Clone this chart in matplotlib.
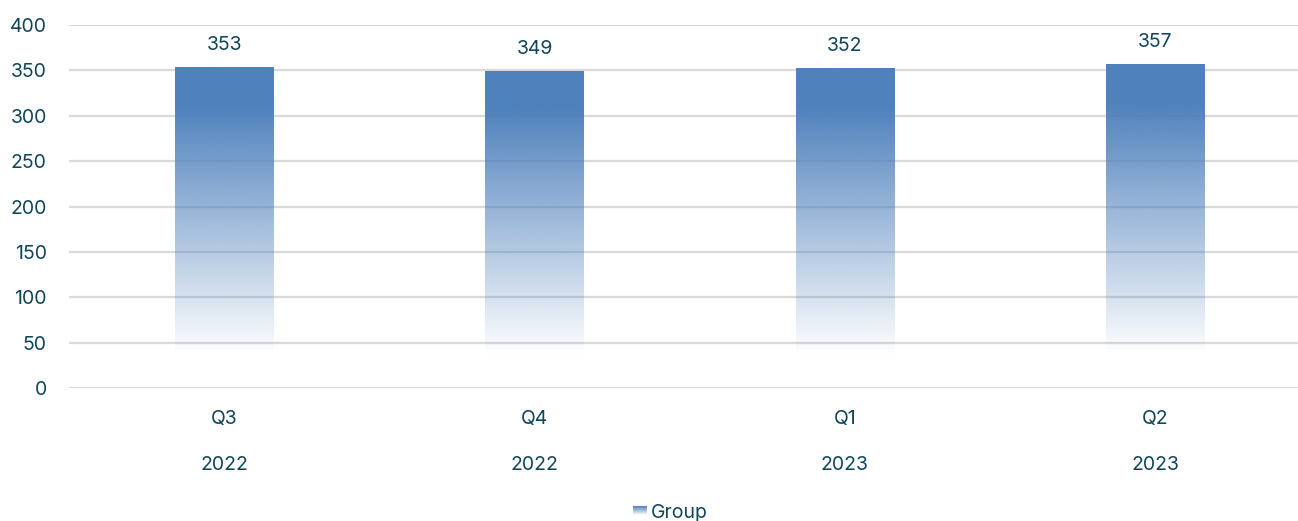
import matplotlib
matplotlib.use("Agg")
import matplotlib.pyplot as plt
import matplotlib.transforms as mtransforms
import numpy as np

quarters = ["Q3", "Q4", "Q1", "Q2"]
years = ["2022", "2022", "2023", "2023"]
values = [353, 349, 352, 357]
series_name = "Group"

BASE = np.array([0x4F, 0x81, 0xBD]) / 255.0
TEXT = "#11465a"
GRID = "#d9d9d9"
FS = 14

plt.rcParams["font.family"] = ["Inter", "DejaVu Sans"]


def gradient_column(n=256, lo=0.1, hi=0.88):
    """RGBA 列: 底部透明 -> 顶部实色"""
    f = np.linspace(0, 1, n)
    t = np.clip((f - lo) / (hi - lo), 0, 1)
    rgba = np.zeros((n, 1, 4))
    rgba[:, 0, :3] = BASE
    rgba[:, 0, 3] = t
    return rgba


fig = plt.figure(figsize=(12.98, 5.21), dpi=100)
ax = fig.add_axes([69 / 1298, (521 - 388) / 521, 1 - 69 / 1298, 363 / 521])

x = np.arange(len(values))
bar_w = 0.316

ax.set_yticks(np.arange(0, 401, 50))
ax.yaxis.grid(True, color=GRID, linewidth=1.6, zorder=0)
ax.set_axisbelow(True)
for s in ax.spines.values():
    s.set_visible(False)
ax.tick_params(axis="y", length=0, pad=16, labelsize=FS, labelcolor=TEXT)
ax.set_xticks([])

grad = gradient_column()
for xi, v in zip(x, values):
    ax.imshow(grad, extent=[xi - bar_w / 2, xi + bar_w / 2, 0, v],
              origin="lower", aspect="auto", zorder=2, interpolation="bilinear")
    ax.annotate(str(v), (xi, v), xytext=(0, 12.5), textcoords="offset points",
                ha="center", va="baseline", fontsize=FS, color=TEXT)

ax.set_xlim(-0.5, 3.46)
ax.set_ylim(0, 400)

trans = mtransforms.blended_transform_factory(ax.transData, fig.transFigure)
for xi, q, yr in zip(x, quarters, years):
    ax.text(xi, 1 - 424 / 521, q, transform=trans, ha="center", va="baseline",
            fontsize=FS, color=TEXT)
    ax.text(xi, 1 - 469.5 / 521, yr, transform=trans, ha="center", va="baseline",
            fontsize=FS, color=TEXT)

# 图例
lax = fig.add_axes([633 / 1298, 1 - 515 / 521, 14 / 1298, 9 / 521])
lax.imshow(gradient_column(lo=0.0, hi=1.0), origin="lower", aspect="auto")
lax.axis("off")
fig.text(651 / 1298, 1 - 518 / 521, series_name, ha="left", va="baseline",
         fontsize=FS, color=TEXT)

fig.savefig("out.png", dpi=100)
